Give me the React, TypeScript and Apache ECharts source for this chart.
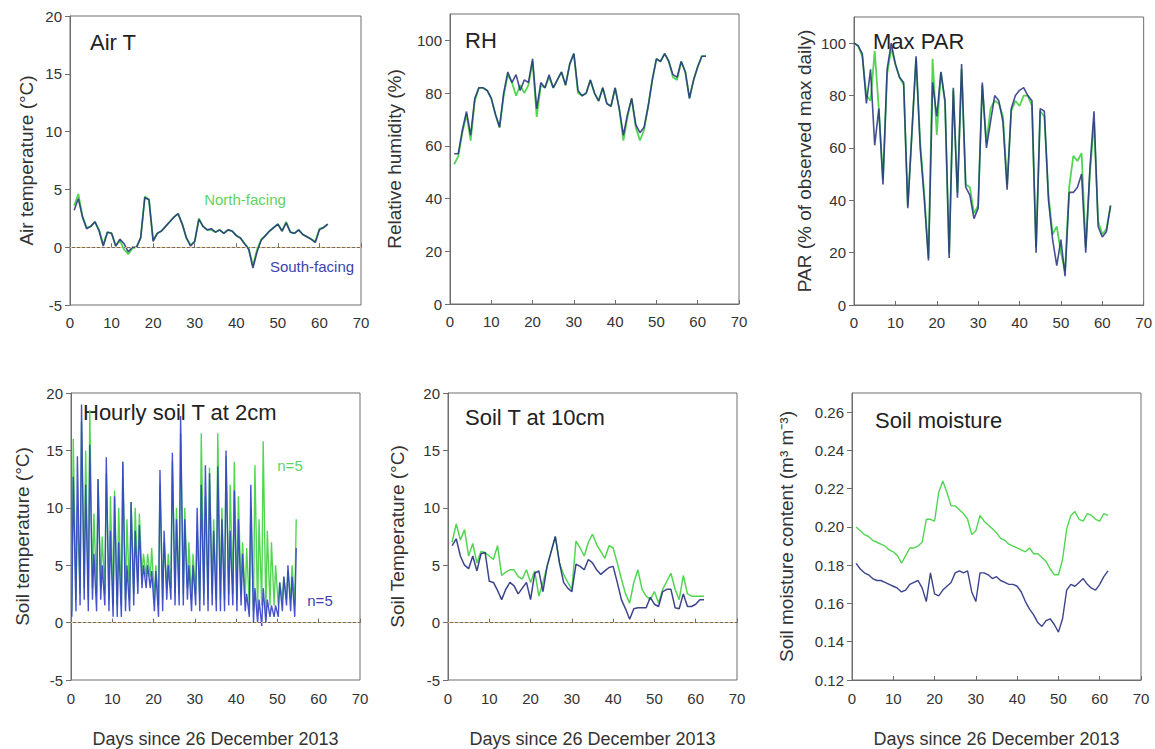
import React, { useEffect, useRef } from "react";
import * as echarts from "echarts";

// ---------- DATA ----------
// Air temperature (°C), days 1..62
const airNorth = [3.6, 4.6, 2.7, 1.7, 1.8, 2.2, 1.5, 0.2, 1.3, 1.2, 0.1, 0.6, -0.2, -0.6, -0.1, 0.0, 0.8, 4.4, 4.1, 0.6, 1.2, 1.4, 1.8, 2.2, 2.6, 2.9, 2.0, 0.8, 0.2, 0.5, 2.5, 1.8, 1.5, 1.5, 1.3, 1.5, 1.2, 1.5, 1.4, 1.0, 0.8, 0.3, -0.1, -1.6, -0.2, 0.7, 1.0, 1.4, 1.7, 2.0, 1.4, 2.2, 1.3, 1.2, 1.5, 1.1, 0.9, 0.7, 0.5, 1.6, 1.7, 2.0];
const airSouth = [3.2, 4.2, 2.6, 1.6, 1.8, 2.2, 1.4, 0.1, 1.3, 1.2, 0.1, 0.7, 0.3, -0.4, 0.0, 0.0, 0.8, 4.3, 4.1, 0.5, 1.2, 1.4, 1.8, 2.2, 2.6, 2.9, 2.0, 0.8, 0.1, 0.5, 2.4, 1.8, 1.5, 1.6, 1.3, 1.5, 1.2, 1.5, 1.4, 1.0, 0.8, 0.3, -0.2, -1.8, -0.4, 0.6, 1.0, 1.4, 1.7, 2.0, 1.4, 2.1, 1.3, 1.2, 1.5, 1.1, 0.9, 0.7, 0.4, 1.5, 1.7, 2.0];

// Relative humidity (%), days 1..62
const rhNorth = [53, 56, 65, 72, 62, 77, 82, 82, 81, 78, 72, 67, 79, 87, 84, 79, 83, 80, 83, 92, 71, 83, 82, 86, 82, 85, 88, 83, 91, 95, 80, 79, 80, 85, 80, 77, 82, 76, 75, 82, 74, 62, 71, 78, 67, 62, 66, 75, 85, 93, 92, 95, 92, 86, 85, 92, 88, 78, 85, 90, 94, 94];
const rhSouth = [57, 57, 66, 73, 64, 78, 82, 82, 81, 78, 72, 67, 80, 88, 84, 87, 81, 85, 84, 93, 74, 84, 82, 87, 82, 85, 88, 83, 91, 95, 81, 79, 80, 85, 80, 77, 82, 76, 75, 82, 74, 64, 72, 78, 68, 65, 67, 75, 85, 93, 92, 95, 92, 87, 86, 92, 88, 78, 85, 90, 94, 94];

// Max PAR (% of observed max daily), days 0..62
const parNorth = [100, 99, 95, 80, 78, 97, 75, 48, 88, 98, 92, 87, 84, 38, 66, 94, 62, 42, 18, 94, 65, 89, 77, 20, 82, 43, 90, 46, 45, 35, 38, 84, 62, 75, 78, 77, 72, 46, 74, 78, 76, 80, 80, 76, 22, 74, 72, 42, 27, 30, 20, 13, 45, 57, 55, 58, 22, 50, 70, 32, 27, 29, 38];
const parSouth = [100, 99, 96, 77, 90, 61, 75, 46, 90, 100, 92, 87, 85, 37, 66, 95, 60, 40, 17, 85, 72, 89, 78, 18, 83, 41, 92, 45, 42, 33, 37, 85, 60, 70, 80, 78, 70, 44, 75, 80, 82, 83, 80, 78, 20, 75, 74, 40, 25, 15, 25, 11, 43, 43, 45, 50, 20, 52, 74, 30, 26, 28, 38];

// Hourly soil T at 2 cm: daily maxima and minima (°C), days 0..54
const soil2NorthMax = [16, 10, 17.5, 15, 18.5, 9.5, 12.5, 7.5, 13, 11, 11.5, 10, 14, 9, 10.5, 10, 9.5, 6, 6, 6.5, 5, 12, 7, 6, 14, 10, 16.5, 10, 7, 6, 8, 16.5, 11, 13.5, 9, 16.5, 10, 14.5, 12, 14, 11, 7, 6.5, 10, 13.7, 9, 15.8, 8, 7, 5, 3.5, 4, 4.5, 5, 9];
const soil2NorthMin = [1, 2, 2.5, 3, 2, 3, 2.5, 3, 2.5, 2, 1.5, 1.5, 1.5, 2, 2, 2.5, 3.5, 4, 4, 4, 2, 1.5, 2, 3, 3, 2.5, 2.5, 2.5, 3, 2, 2.5, 2, 2.5, 2, 2.5, 2, 2, 2, 2.5, 2.5, 2, 2.5, 2, 1.5, 1, 1, 1.5, 1, 1.5, 1.5, 1.5, 2, 2, 2, 1.5];
const soil2SouthMax = [12.7, 14.5, 19, 12, 15.5, 6, 12.5, 5, 14.4, 8, 11, 7, 14, 5, 10.5, 8, 8.5, 5, 5, 4.5, 4.5, 13.3, 8, 5, 14.8, 9, 18, 9, 5, 5, 10, 12, 13.7, 13, 8, 13.6, 9, 15, 8, 11.5, 9, 6, 2.5, 12, 3, 2, 3, 2, 1.5, 1.5, 3.5, 4, 5, 4, 6.5];
const soil2SouthMin = [0.5, 1, 1.5, 2, 1, 2, 1, 2, 1.5, 1, 0.5, 0.5, 0.5, 1, 1, 1.5, 2.5, 3, 3, 3, 1, 0.5, 1, 2, 2, 1.5, 1.5, 1.5, 2, 1, 1.5, 1, 1.5, 1, 1.5, 1, 1, 1, 1.5, 1.5, 1, 1.5, 1, 0.5, 0, 0, -0.3, 0, 0.5, 0.5, 0.5, 1, 1.5, 1, 0.5];

// Soil T at 10 cm (°C), days 1..62
const soil10North = [7.0, 8.6, 7.2, 8.1, 5.8, 6.9, 5.2, 6.2, 6.1, 5.8, 5.5, 6.7, 4.1, 4.4, 4.6, 4.6, 4.0, 3.8, 4.6, 3.5, 4.5, 2.3, 3.5, 4.9, 6.2, 7.5, 5.2, 4.2, 3.5, 2.9, 7.1, 6.5, 5.8, 7.0, 7.7, 6.8, 6.2, 5.6, 6.7, 6.5, 5.2, 3.8, 2.5, 1.7, 3.5, 4.6, 2.9, 2.3, 2.0, 2.7, 1.7, 2.9, 3.6, 4.3, 2.9, 2.0, 4.1, 2.5, 2.3, 2.3, 2.3, 2.3];
const soil10South = [6.7, 7.3, 5.8, 5.0, 4.7, 5.8, 4.5, 6.0, 6.1, 3.6, 3.5, 2.8, 2.0, 2.9, 3.5, 3.2, 2.5, 3.0, 3.5, 2.0, 4.3, 4.5, 2.7, 4.9, 6.2, 7.5, 5.2, 3.5, 3.0, 2.7, 5.1, 4.9, 4.6, 5.5, 5.2, 4.6, 4.2, 4.5, 4.8, 4.9, 3.5, 2.0, 1.2, 0.3, 1.2, 1.3, 1.3, 1.3, 2.2, 1.6, 1.4, 2.7, 2.9, 2.9, 1.3, 1.2, 2.5, 1.4, 1.4, 1.6, 2.0, 2.0];

// Soil moisture (m3 m-3), days 1..62
const smNorth = [0.200, 0.198, 0.196, 0.195, 0.193, 0.192, 0.191, 0.190, 0.188, 0.187, 0.185, 0.181, 0.185, 0.189, 0.189, 0.190, 0.192, 0.204, 0.204, 0.203, 0.218, 0.224, 0.218, 0.211, 0.211, 0.209, 0.207, 0.204, 0.196, 0.198, 0.206, 0.203, 0.201, 0.199, 0.197, 0.194, 0.193, 0.191, 0.190, 0.189, 0.188, 0.187, 0.189, 0.186, 0.186, 0.184, 0.182, 0.178, 0.175, 0.175, 0.183, 0.199, 0.206, 0.208, 0.204, 0.203, 0.207, 0.206, 0.204, 0.203, 0.207, 0.206];
const smSouth = [0.181, 0.178, 0.176, 0.175, 0.173, 0.172, 0.172, 0.171, 0.170, 0.169, 0.168, 0.166, 0.167, 0.170, 0.171, 0.172, 0.168, 0.161, 0.176, 0.165, 0.164, 0.167, 0.169, 0.171, 0.176, 0.177, 0.176, 0.177, 0.166, 0.161, 0.176, 0.176, 0.175, 0.173, 0.174, 0.172, 0.171, 0.170, 0.170, 0.169, 0.166, 0.161, 0.157, 0.154, 0.150, 0.148, 0.151, 0.152, 0.149, 0.145, 0.152, 0.167, 0.170, 0.169, 0.171, 0.173, 0.170, 0.168, 0.167, 0.170, 0.174, 0.177];

const panelTitles = ["Air T", "RH", "Max PAR", "Hourly soil T at 2cm", "Soil T at 10cm", "Soil moisture"];
const yNames = [
  "Air temperature (°C)",
  "Relative humidity (%)",
  "PAR (% of observed max daily)",
  "Soil temperature (°C)",
  "Soil Temperature (°C)",
  "Soil moisture content (m³ m⁻³)",
];
const xName = "Days since 26 December 2013";

// ---------- HELPERS ----------
const pairs = (vals: number[], start: number) => vals.map((v, i) => [start + i, v]);
const diurnal = (mins: number[], maxs: number[]) => {
  const out: number[][] = [];
  mins.forEach((mn, i) => {
    out.push([i + 0.2, mn]);
    out.push([i + 0.55, maxs[i]]);
  });
  return out;
};

const FONT = '"Liberation Sans", Arial, Helvetica, sans-serif';
const GREEN = "#52d652";
const NAVY = "#263080";
const BLUE4 = "#3340c8";
const AXIS = "#6e6e6e";
const TEXT = "#333";
const ZERO = "#ecb872";

const GRIDS = [
  { left: 70, top: 16, width: 291, height: 289 },
  { left: 450, top: 14, width: 289, height: 290 },
  { left: 854, top: 17, width: 292, height: 288 },
  { left: 71, top: 393, width: 289, height: 288 },
  { left: 448, top: 393, width: 289, height: 288 },
  { left: 852, top: 393, width: 289, height: 289 },
];

const Y_SPECS = [
  { min: -5, max: 20, interval: 5, gap: 34, hideMax: false, dec: 0 },
  { min: 0, max: 110, interval: 20, gap: 46, hideMax: true, dec: 0 },
  { min: 0, max: 110, interval: 20, gap: 40, hideMax: true, dec: 0 },
  { min: -5, max: 20, interval: 5, gap: 39, hideMax: false, dec: 0 },
  { min: -5, max: 20, interval: 5, gap: 41, hideMax: false, dec: 0 },
  { min: 0.12, max: 0.27, interval: 0.02, gap: 56, hideMax: true, dec: 2 },
];

const TITLE_POS = [
  [90, 42],
  [465, 40],
  [873, 41],
  [83, 412],
  [465, 417],
  [875, 420],
];

export default function App() {
  const ref = useRef<HTMLDivElement>(null);

  useEffect(() => {
    if (!ref.current) return;
    const chart = echarts.init(ref.current, undefined, { renderer: "svg" });

    const xAxis = GRIDS.map((_, i) => ({
      type: "value",
      gridIndex: i,
      min: 0,
      max: 70,
      interval: 10,
      splitLine: { show: false },
      axisLine: { show: true, lineStyle: { color: AXIS, width: 1 } },
      axisTick: { show: true, inside: true, length: 4, lineStyle: { color: AXIS } },
      axisLabel: { color: TEXT, fontSize: 15, fontFamily: FONT, margin: i >= 3 ? 11 : 10 },
      name: i >= 3 ? xName : "",
      nameLocation: "middle",
      nameGap: 50,
      nameTextStyle: { color: TEXT, fontSize: 18, fontFamily: FONT },
    }));

    const yAxis = Y_SPECS.map((s, i) => ({
      type: "value",
      gridIndex: i,
      min: s.min,
      max: s.max,
      interval: s.interval,
      splitLine: { show: false },
      axisLine: { show: true, lineStyle: { color: AXIS, width: 1 } },
      axisTick: { show: true, inside: false, length: 5, lineStyle: { color: AXIS } },
      axisLabel: {
        color: TEXT,
        fontSize: 15,
        fontFamily: FONT,
        margin: 8,
        showMaxLabel: !s.hideMax,
        formatter: (v: number) => (s.dec ? v.toFixed(s.dec) : String(Math.round(v))),
      },
      name: yNames[i],
      nameLocation: "middle",
      nameGap: s.gap,
      nameRotate: 90,
      nameTextStyle: { color: TEXT, fontSize: 19, fontFamily: FONT },
    }));

    const zeroStyle = { color: ZERO, type: [2, 3], width: 1.2, opacity: 1 };
    const zeroLine = {
      silent: true,
      symbol: ["none", "none"],
      label: { show: false },
      lineStyle: zeroStyle,
      emphasis: { disabled: true, lineStyle: zeroStyle },
      data: [{ yAxis: 0, lineStyle: zeroStyle }],
    };

    const mk = (idx: number, data: number[][], color: string, width: number, opacity = 1, withZero = false) => ({
      type: "line",
      xAxisIndex: idx,
      yAxisIndex: idx,
      data,
      symbol: "none",
      showSymbol: false,
      lineStyle: { color, width, opacity },
      itemStyle: { color },
      silent: true,
      ...(withZero ? { markLine: zeroLine } : {}),
    });

    const series = [
      mk(0, pairs(airNorth, 1), GREEN, 1.8, 1, true),
      mk(0, pairs(airSouth, 1), NAVY, 1.6, 0.85),
      mk(1, pairs(rhNorth, 1), GREEN, 1.8),
      mk(1, pairs(rhSouth, 1), NAVY, 1.6, 0.85),
      mk(2, pairs(parNorth, 0), GREEN, 1.8),
      mk(2, pairs(parSouth, 0), NAVY, 1.6, 0.85),
      mk(3, diurnal(soil2NorthMin, soil2NorthMax), GREEN, 1.4, 1, true),
      mk(3, diurnal(soil2SouthMin, soil2SouthMax), BLUE4, 1.4, 0.9),
      mk(4, pairs(soil10North, 1), GREEN, 1.5, 1, true),
      mk(4, pairs(soil10South, 1), NAVY, 1.5, 0.9),
      mk(5, pairs(smNorth, 1), GREEN, 1.4),
      mk(5, pairs(smSouth, 1), NAVY, 1.4, 0.9),
    ];

    const graphic: any[] = panelTitles.map((t, i) => ({
      type: "text",
      x: TITLE_POS[i][0],
      y: TITLE_POS[i][1],
      silent: true,
      style: {
        text: t,
        fill: "#222",
        fontSize: 22,
        fontFamily: FONT,
        align: "left",
        verticalAlign: "middle",
        textAlign: "left",
        textVerticalAlign: "middle",
      },
    }));
    const notes = [
      { text: "North-facing", x: 245, y: 199, fill: "#5fd35f" },
      { text: "South-facing", x: 312, y: 266, fill: "#3d3fb0" },
      { text: "n=5", x: 290, y: 465, fill: "#5fd35f" },
      { text: "n=5", x: 320, y: 600, fill: "#3d3fb0" },
    ];
    notes.forEach((n) =>
      graphic.push({
        type: "text",
        x: n.x,
        y: n.y,
        silent: true,
        z: 10,
        style: {
          text: n.text,
          fill: n.fill,
          fontSize: 15,
          fontFamily: FONT,
          align: "center",
          verticalAlign: "middle",
          textAlign: "center",
          textVerticalAlign: "middle",
        },
      })
    );

    chart.setOption({
      animation: false,
      backgroundColor: "#ffffff",
      grid: GRIDS.map((g) => ({
        ...g,
        show: true,
        borderColor: AXIS,
        borderWidth: 1,
        backgroundColor: "transparent",
        containLabel: false,
      })),
      xAxis,
      yAxis,
      series,
      graphic,
    });

    return () => chart.dispose();
  }, []);

  return (
    <div
      ref={ref}
      style={{ position: "absolute", left: 0, top: 0, width: 1155, height: 749, background: "#fff" }}
    />
  );
}
